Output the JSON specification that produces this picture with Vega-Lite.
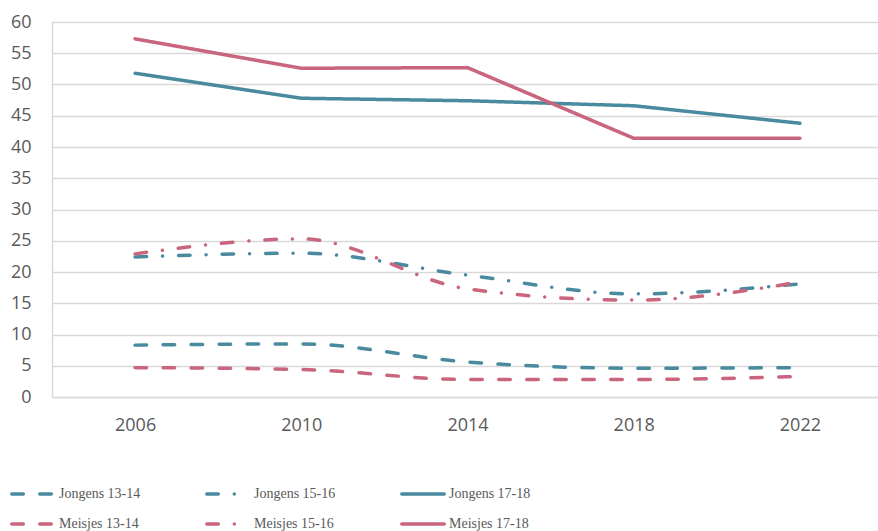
{
  "$schema": "https://vega.github.io/schema/vega-lite/v6.json",
  "autosize": "none",
  "width": 831,
  "height": 375,
  "padding": {"left": 52, "top": 22, "right": 0, "bottom": 134},
  "background": "white",
  "config": {
    "view": {"stroke": null},
    "font": "Open Sans"
  },
  "data": {
    "values": [
      {"jaar": "2006", "serie": "Jongens 13-14", "waarde": 8.3},
      {"jaar": "2010", "serie": "Jongens 13-14", "waarde": 8.5},
      {"jaar": "2014", "serie": "Jongens 13-14", "waarde": 5.6},
      {"jaar": "2018", "serie": "Jongens 13-14", "waarde": 4.6},
      {"jaar": "2022", "serie": "Jongens 13-14", "waarde": 4.7},
      {"jaar": "2006", "serie": "Jongens 15-16", "waarde": 22.4},
      {"jaar": "2010", "serie": "Jongens 15-16", "waarde": 23.0},
      {"jaar": "2014", "serie": "Jongens 15-16", "waarde": 19.5},
      {"jaar": "2018", "serie": "Jongens 15-16", "waarde": 16.5},
      {"jaar": "2022", "serie": "Jongens 15-16", "waarde": 18.1},
      {"jaar": "2006", "serie": "Jongens 17-18", "waarde": 51.8},
      {"jaar": "2010", "serie": "Jongens 17-18", "waarde": 47.8},
      {"jaar": "2014", "serie": "Jongens 17-18", "waarde": 47.4},
      {"jaar": "2018", "serie": "Jongens 17-18", "waarde": 46.6},
      {"jaar": "2022", "serie": "Jongens 17-18", "waarde": 43.8},
      {"jaar": "2006", "serie": "Meisjes 13-14", "waarde": 4.7},
      {"jaar": "2010", "serie": "Meisjes 13-14", "waarde": 4.4},
      {"jaar": "2014", "serie": "Meisjes 13-14", "waarde": 2.8},
      {"jaar": "2018", "serie": "Meisjes 13-14", "waarde": 2.8},
      {"jaar": "2022", "serie": "Meisjes 13-14", "waarde": 3.3},
      {"jaar": "2006", "serie": "Meisjes 15-16", "waarde": 22.9},
      {"jaar": "2010", "serie": "Meisjes 15-16", "waarde": 25.3},
      {"jaar": "2014", "serie": "Meisjes 15-16", "waarde": 17.3},
      {"jaar": "2018", "serie": "Meisjes 15-16", "waarde": 15.5},
      {"jaar": "2022", "serie": "Meisjes 15-16", "waarde": 18.4},
      {"jaar": "2006", "serie": "Meisjes 17-18", "waarde": 57.3},
      {"jaar": "2010", "serie": "Meisjes 17-18", "waarde": 52.6},
      {"jaar": "2014", "serie": "Meisjes 17-18", "waarde": 52.7},
      {"jaar": "2018", "serie": "Meisjes 17-18", "waarde": 41.4},
      {"jaar": "2022", "serie": "Meisjes 17-18", "waarde": 41.4}
    ]
  },
  "encoding": {
    "x": {
      "field": "jaar", "type": "ordinal", "title": null,
      "scale": {"type": "point", "padding": 0.5},
      "axis": {
        "labelAngle": 0, "labelFontSize": 18, "labelColor": "#595959",
        "labelPadding": 19, "ticks": false, "domainColor": "#d9d9d9",
        "domainWidth": 1.5, "grid": false
      }
    },
    "y": {
      "field": "waarde", "type": "quantitative", "title": null,
      "scale": {"domain": [0, 60], "nice": false},
      "axis": {
        "values": [0, 5, 10, 15, 20, 25, 30, 35, 40, 45, 50, 55, 60],
        "labelFontSize": 18, "labelColor": "#595959", "labelPadding": 21,
        "ticks": false, "domainColor": "#d9d9d9", "domainWidth": 1.5,
        "gridColor": "#d9d9d9", "gridWidth": 1.5
      }
    },
    "color": {
      "field": "serie", "type": "nominal",
      "scale": {
        "domain": ["Jongens 13-14", "Meisjes 13-14", "Jongens 15-16", "Meisjes 15-16", "Jongens 17-18", "Meisjes 17-18"],
        "range": ["#4a8a9f", "#c9657c", "#4a8a9f", "#c9657c", "#4a8a9f", "#c9657c"]
      },
      "legend": {
        "title": null, "orient": "none", "legendX": -42, "legendY": 449,
        "columns": 3, "columnPadding": 58, "rowPadding": -19,
        "symbolType": "stroke", "symbolSize": 1800, "symbolStrokeWidth": 3.5,
        "labelFont": "Liberation Sans Narrow", "labelFontSize": 14, "labelColor": "#595959",
        "labelOffset": 3, "labelLimit": 200,
        "encode": {
          "symbols": {
            "update": {
              "strokeDash": {"signal": "indexof(datum.value, '13-14') >= 0 ? [6, 10.5] : indexof(datum.value, '15-16') >= 0 ? [4.5, 12.5, 0.01, 12.5] : [1, 0]"},
              "strokeCap": {"value": "round"}
            }
          }
        }
      }
    },
    "strokeDash": {
      "field": "serie", "type": "nominal",
      "scale": {
        "domain": ["Jongens 13-14", "Meisjes 13-14", "Jongens 15-16", "Meisjes 15-16", "Jongens 17-18", "Meisjes 17-18"],
        "range": [[11.5, 16.5], [11.5, 16.5], [11.5, 16, 0.01, 16], [11.5, 16, 0.01, 16], [1, 0], [1, 0]]
      }
    }
  },
  "layer": [
    {
      "transform": [{"filter": "indexof(datum.serie, '17-18') < 0"}],
      "mark": {"type": "line", "interpolate": "monotone", "strokeWidth": 3.5, "strokeCap": "round"}
    },
    {
      "transform": [{"filter": "indexof(datum.serie, '17-18') >= 0"}],
      "mark": {"type": "line", "interpolate": "linear", "strokeWidth": 3.5, "strokeCap": "round"}
    }
  ]
}
